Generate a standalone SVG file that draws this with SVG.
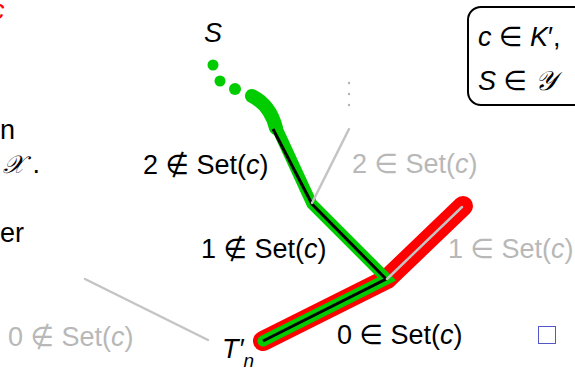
<svg xmlns="http://www.w3.org/2000/svg" width="575" height="370" viewBox="0 0 575 370">
<style>
text{font-family:"Liberation Sans","DejaVu Sans",sans-serif;font-size:27px;fill:#000}
.g{fill:#b8b8b8}
.i{font-style:italic}
.scr{font-family:"DejaVu Serif","Liberation Serif",serif;font-style:italic}
.gl{stroke:#c4c4c4;stroke-width:2.5;fill:none;stroke-linecap:round}
</style>
<rect width="575" height="370" fill="#fff"/>
<text x="-9" y="19" style="fill:#ff0000" class="i">c</text>
<text x="0" y="139">n</text>
<text x="3" y="173"><tspan class="scr" font-size="25">𝒳</tspan> .</text>
<text x="0" y="242">er</text>
<g id="connectors">
  <path d="M263,341 L387,279 L463,206" stroke="#ff0000" stroke-width="20" fill="none" stroke-linecap="round" stroke-linejoin="miter"/>
  <path d="M252,96 C264,102 272,112 276,128" stroke="#00cc00" stroke-width="14" fill="none" stroke-linecap="round"/>
  <circle cx="213" cy="65" r="5.5" fill="#00cc00"/>
  <circle cx="220" cy="81" r="5.5" fill="#00cc00"/>
  <circle cx="235" cy="89" r="6" fill="#00cc00"/>
  <path d="M276,126 L312,204 L387,279 L263,341" stroke="#00cc00" stroke-width="11" fill="none" stroke-linecap="round" stroke-linejoin="miter"/>
  <path d="M273,129 L312,204 L386,279 L263,341" stroke="#000" stroke-width="3" fill="none" stroke-linejoin="miter"/>
  <line x1="387" y1="279" x2="462" y2="207" class="gl" stroke-width="2"/>
  <line x1="312" y1="203" x2="349" y2="129" class="gl" stroke-width="2"/>
  <line x1="85" y1="279" x2="208" y2="340" class="gl"/>
  <circle cx="349" cy="83" r="1.2" fill="#b3b3b3"/>
  <circle cx="349" cy="94" r="1.2" fill="#b3b3b3"/>
  <circle cx="349" cy="105" r="1.2" fill="#b3b3b3"/>
</g>
<g id="nodeS"><text x="204" y="42" class="i">S</text></g>
<g id="root"><text x="222" y="358" class="i">T′<tspan font-size="19" dy="9">n</tspan></text></g>
<g id="lab2n"><text x="143" y="174">2 ∉ Set(<tspan class="i">c</tspan>)</text></g>
<g id="lab1n"><text x="201" y="258">1 ∉ Set(<tspan class="i">c</tspan>)</text></g>
<g id="lab2y"><text x="352" y="173" class="g">2 ∈ Set(<tspan class="i">c</tspan>)</text></g>
<g id="lab1y"><text x="448" y="258" class="g">1 ∈ Set(<tspan class="i">c</tspan>)</text></g>
<g id="lab0n"><text x="8" y="346" class="g">0 ∉ Set(<tspan class="i">c</tspan>)</text></g>
<g id="lab0y"><text x="337" y="344">0 ∈ Set(<tspan class="i">c</tspan>)</text></g>
<g id="qed"><rect x="538.5" y="326.5" width="17" height="17" fill="none" stroke="#5555cc" stroke-width="1"/></g>
<g id="box">
  <rect x="468" y="7" width="120" height="98" rx="13" fill="none" stroke="#000" stroke-width="2"/>
  <text x="478" y="46"><tspan class="i">c</tspan> ∈ <tspan class="i">K</tspan>′,</text>
  <text x="478" y="90"><tspan class="i">S</tspan> ∈ <tspan class="scr">𝒴</tspan></text>
</g>
</svg>
